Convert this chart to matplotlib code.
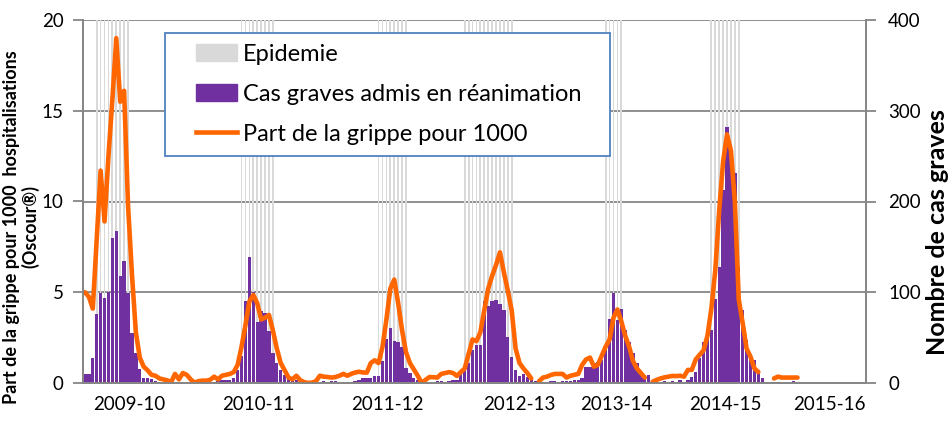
import matplotlib.pyplot as plt
import numpy as np
from matplotlib.patches import Patch, Rectangle
from matplotlib.lines import Line2D

nan = np.nan

# Part de la grippe pour 1000 hospitalisations (Oscour), une valeur par semaine
grippe_1000 = [
    5.0, 4.75, 4.1, 7.9, 11.7, 8.9, 12.5, 15.6, 19.0, 15.5,
    16.1, 9.8, 6.0, 2.8, 1.4, 0.9, 0.7, 0.45, 0.4, 0.25,
    0.2, 0.15, 0.05, 0.5, 0.2, 0.55, 0.45, 0.2, 0.02, 0.1,
    0.13, 0.13, 0.18, 0.35, 0.2, 0.4, 0.45, 0.5, 0.6, 1.0,
    2.0, 3.2, 4.5, 4.85, 4.4, 3.5, 3.6, 3.75, 2.9, 1.9,
    1.1, 0.7, 0.3, 0.2, 0.4, 0.15, 0.05, 0.0, 0.02, 0.1,
    0.4, 0.35, 0.33, 0.3, 0.33, 0.4, 0.5, 0.4, 0.5, 0.58,
    0.62, 0.58, 0.57, 1.1, 1.25, 1.1, 2.0, 3.5, 5.2, 5.7,
    4.4, 2.9, 1.7, 1.1, 0.75, 0.4, 0.0, 0.17, 0.33, 0.32,
    0.3, 0.5, 0.55, 0.6, 0.55, 0.39, 0.6, 0.8, 1.6, 2.4,
    2.3, 2.8, 4.0, 5.2, 5.9, 6.5, 7.2, 6.1, 5.1, 4.0,
    1.9, 1.1, 0.8, 0.55, 0.25, nan, 0.1, 0.3, 0.35, 0.44,
    0.5, 0.5, 0.5, 0.3, 0.4, 0.45, 0.5, 1.0, 1.3, 1.4,
    0.9, 1.0, 1.5, 2.0, 2.4, 3.6, 4.05, 3.4, 2.6, 2.0,
    1.2, 0.8, 0.55, 0.3, nan, 0.07, 0.17, 0.25, 0.31, 0.35,
    0.39, 0.38, 0.4, 0.35, 0.72, 0.72, 1.3, 1.55, 1.8, 2.6,
    4.1, 6.2, 9.5, 12.2, 13.7, 12.8, 10.0, 4.6, 3.3, 1.9,
    1.45, 0.8, 0.6, nan, nan, nan, 0.25, 0.35, 0.3, 0.3,
    0.3, 0.3, 0.3,
]

# Nombre de cas graves admis en reanimation, par semaine
cas_graves = [
    10, 10, 28, 76, 99, 94, 100, 160, 168, 118,
    134, 99, 55, 33, 15, 6, 5, 4, 2, 1,
    1, 0, 1, 0, 1, 0, 0, 0, 0, 0,
    0, 0, 1, 1, 2, 3, 3, 3, 5, 14,
    30, 90, 139, 100, 67, 79, 77, 57, 33, 22,
    14, 9, 6, 3, 3, 2, 1, 0, 0, 0,
    0, 2, 0, 2, 2, 0, 0, 0, 1, 2,
    3, 5, 5, 5, 8, 8, 24, 48, 61, 46,
    45, 40, 17, 11, 5, 3, 1, 0, 0, 1,
    2, 2, 0, 2, 3, 3, 11, 16, 22, 36,
    42, 42, 90, 85, 90, 92, 87, 80, 51, 29,
    14, 8, 10, 7, 5, 2, 1, 0, 0, 2,
    2, 0, 2, 2, 2, 3, 3, 5, 18, 18,
    22, 23, 25, 36, 71, 99, 69, 82, 58, 45,
    33, 22, 12, 7, 9, 2, 0, 0, 2, 0,
    2, 0, 3, 1, 3, 7, 12, 27, 45, 49,
    58, 93, 128, 213, 282, 253, 231, 128, 80, 47,
    29, 25, 14, 5, 0, 0, 0, 0, 0, 0,
    0, 2, 0,
]

# periodes epidemiques (premiere et derniere semaine)
epi_debut = [3, 40, 75, 97, 133, 160]
epi_fin = [11, 48, 82, 109, 137, 167]

saisons = ['2009-10', '2010-11', '2011-12', '2012-13', '2013-14', '2014-15', '2015-16']
saisons_pos = [11.2, 44.4, 77.3, 111.0, 135.7, 163.7, 190.1]

n_cat = 200
semaines = np.arange(len(grippe_1000))
epidemie = np.zeros(len(semaines))
for d, f in zip(epi_debut, epi_fin):
    epidemie[d:f + 1] = 1

plt.rcParams['font.family'] = ['Lato', 'DejaVu Sans']
gris = '#868686'
orange = '#ff6600'
violet = '#7030a0'
W, H = 949, 428

fig = plt.figure(figsize=(W / 100, H / 100), dpi=100)
ax = fig.add_axes([83 / W, 45 / H, 783 / W, 363 / H])
ax2 = ax.twinx()
ax.set_zorder(ax2.get_zorder() + 1)
ax.patch.set_visible(False)

# barres : axe secondaire (cas graves)
ax2.set_ylim(0, 400)
ax2.bar(semaines, epidemie * 400, width=0.45, color='#d9d9d9', zorder=1)
ax2.bar(semaines, cas_graves, width=0.85, color=violet, zorder=2)
ax2.set_yticks(np.arange(0, 401, 100))
ax2.yaxis.grid(True, color=gris, lw=1.3)
ax2.set_axisbelow(True)

# courbe : axe principal
ax.plot(semaines, grippe_1000, color=orange, lw=3.3,
        solid_joinstyle='round', solid_capstyle='round')
ax.set_ylim(0, 20)
ax.set_yticks(np.arange(0, 21, 5))
ax.set_xlim(-0.5, n_cat - 0.5)
ax.set_xticks(saisons_pos)
ax.set_xticklabels(saisons)

for a in (ax, ax2):
    for s in a.spines.values():
        s.set_color(gris)
        s.set_linewidth(1.3)
    a.spines['top'].set_visible(False)
ax.tick_params(axis='y', colors=gris, labelcolor='black', length=7, width=1.3,
               labelsize=13.5, pad=7)
ax2.tick_params(axis='y', colors=gris, labelcolor='black', length=7, width=1.3,
                labelsize=13.5, pad=9)
ax.tick_params(axis='x', length=0, labelsize=13.5, pad=9)

ax.set_ylabel('Part de la grippe pour 1000  hospitalisations\n(Oscour®)',
              fontsize=13, fontweight='bold', multialignment='center',
              linespacing=1.1)
ax.yaxis.set_label_coords(-0.056, 0.43)
ax2.set_ylabel('Nombre de cas graves', fontsize=18, fontweight='bold')
ax2.yaxis.set_label_coords(1.077, 0.415)

# cadre de la legende
ax.add_patch(Rectangle((165 / W, 1 - 156 / H), 445 / W, 123 / H,
                       transform=fig.transFigure, facecolor='white',
                       edgecolor='#4f81bd', lw=1.3, zorder=4, clip_on=False))
handles = [Patch(color='#d9d9d9'), Patch(color=violet),
           Line2D([], [], color=orange, lw=3.3)]
labels = ['Epidemie', 'Cas graves admis en réanimation', 'Part de la grippe pour 1000']
leg = ax.legend(handles, labels, loc='upper left',
                bbox_to_anchor=(183 / W, 1 - 31 / H), bbox_transform=fig.transFigure,
                fontsize=17, frameon=False, borderpad=0.55, labelspacing=0.8,
                handlelength=1.75, handleheight=0.7, handletextpad=0.25,
                borderaxespad=0)
leg.set_zorder(5)

fig.savefig('out.png', dpi=100)
